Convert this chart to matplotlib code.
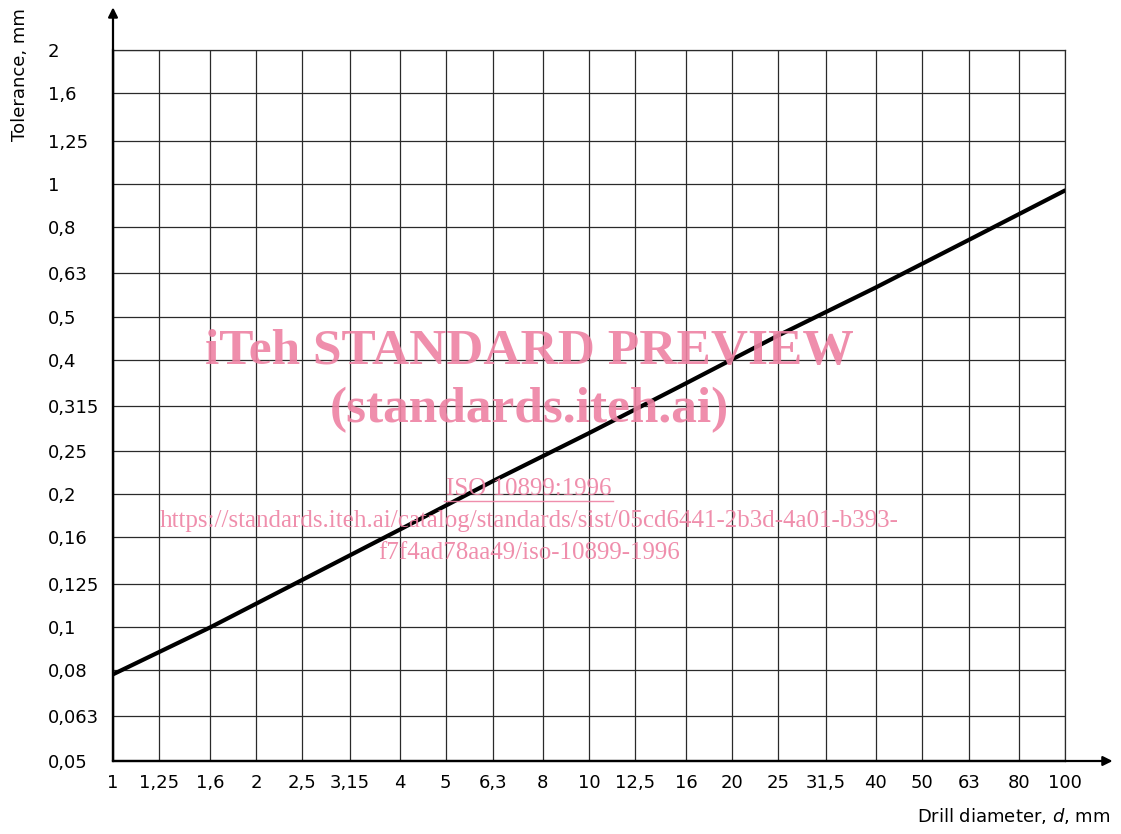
import numpy as np
from matplotlib import pyplot as plt

# R10 grid values (tick labels)
x_ticks = [1, 1.25, 1.6, 2, 2.5, 3.15, 4, 5, 6.3, 8, 10, 12.5, 16, 20, 25, 31.5, 40, 50, 63, 80, 100]
x_labels = ['1', '1,25', '1,6', '2', '2,5', '3,15', '4', '5', '6,3', '8', '10', '12,5', '16', '20',
            '25', '31,5', '40', '50', '63', '80', '100']
y_ticks = [0.05, 0.063, 0.08, 0.1, 0.125, 0.16, 0.2, 0.25, 0.315, 0.4, 0.5, 0.63, 0.8, 1, 1.25, 1.6, 2]
y_labels = ['0,05', '0,063', '0,08', '0,1', '0,125', '0,16', '0,2', '0,25', '0,315', '0,4', '0,5',
            '0,63', '0,8', '1', '1,25', '1,6', '2']

# tolerance curve
diameter = [1, 1.6, 2.5, 4, 6.3, 10, 16, 25, 40, 63, 100]
tolerance = [0.0784, 0.1, 0.128, 0.166, 0.214, 0.274, 0.355, 0.455, 0.583, 0.748, 0.965]

fig = plt.figure(figsize=(11.21, 8.34), dpi=100)
ax = fig.add_axes([113/1121, 1-761/834, (1065-113)/1121, (761-50)/834])

ax.set_xscale('log')
ax.set_yscale('log')
ax.set_xlim(1, 100)
ax.set_ylim(0.05, 2)
ax.set_xticks(x_ticks)
ax.set_xticklabels(x_labels)
ax.set_yticks(y_ticks)
ax.set_yticklabels(y_labels, ha='left')
ax.minorticks_off()
ax.tick_params(axis='x', length=0, pad=9, labelsize=13)
ax.tick_params(axis='y', length=0, pad=47, labelsize=13)
ax.grid(True, color='#2a2a2a', lw=0.9)

ax.plot(diameter, tolerance, color='black', lw=3, solid_capstyle='round', zorder=5)

for s in ['top', 'right']:
    ax.spines[s].set_linewidth(0.9)
    ax.spines[s].set_color('#2a2a2a')
for s in ['left', 'bottom']:
    ax.spines[s].set_linewidth(1.6)

# axis arrows
ax.annotate('', xy=(0, 1.06), xytext=(0, 0), xycoords='axes fraction',
            arrowprops=dict(arrowstyle='-|>', color='black', lw=1.6, mutation_scale=14,
                            shrinkA=0, shrinkB=0), annotation_clip=False)
ax.annotate('', xy=(1.05, 0), xytext=(0, 0), xycoords='axes fraction',
            arrowprops=dict(arrowstyle='-|>', color='black', lw=1.6, mutation_scale=14,
                            shrinkA=0, shrinkB=0), annotation_clip=False)

fig.text(20/1121, 1-75/834, 'Tolerance, mm', rotation=90, ha='center', va='center', fontsize=13)
fig.text(1110/1121, 1-816/834, r'Drill diameter, $d$, mm', ha='right', va='center', fontsize=13)

# watermark
pink = '#ee82a3'
fig.text(529/1121, 1-352/834, 'iTeh STANDARD PREVIEW', ha='center', va='center', fontsize=37,
         fontweight='bold', family='Liberation Serif', color=pink, alpha=0.9)
fig.text(529/1121, 1-410/834, '(standards.iteh.ai)', ha='center', va='center', fontsize=37,
         fontweight='bold', family='Liberation Serif', color=pink, alpha=0.9)
fig.text(529/1121, 1-489/834, 'ISO 10899:1996', ha='center', va='center', fontsize=18,
         family='Liberation Serif', color=pink, alpha=0.9)
fig.text(529/1121, 1-521/834, 'https://standards.iteh.ai/catalog/standards/sist/05cd6441-2b3d-4a01-b393-',
         ha='center', va='center', fontsize=18, family='Liberation Serif', color=pink, alpha=0.9)
fig.text(529/1121, 1-553/834, 'f7f4ad78aa49/iso-10899-1996', ha='center', va='center', fontsize=18,
         family='Liberation Serif', color=pink, alpha=0.9)
fig.lines.append(plt.Line2D([444/1121, 613/1121], [1-501/834, 1-501/834], transform=fig.transFigure,
                            color=pink, lw=1, alpha=0.9))

fig.savefig('out.png', dpi=100)
